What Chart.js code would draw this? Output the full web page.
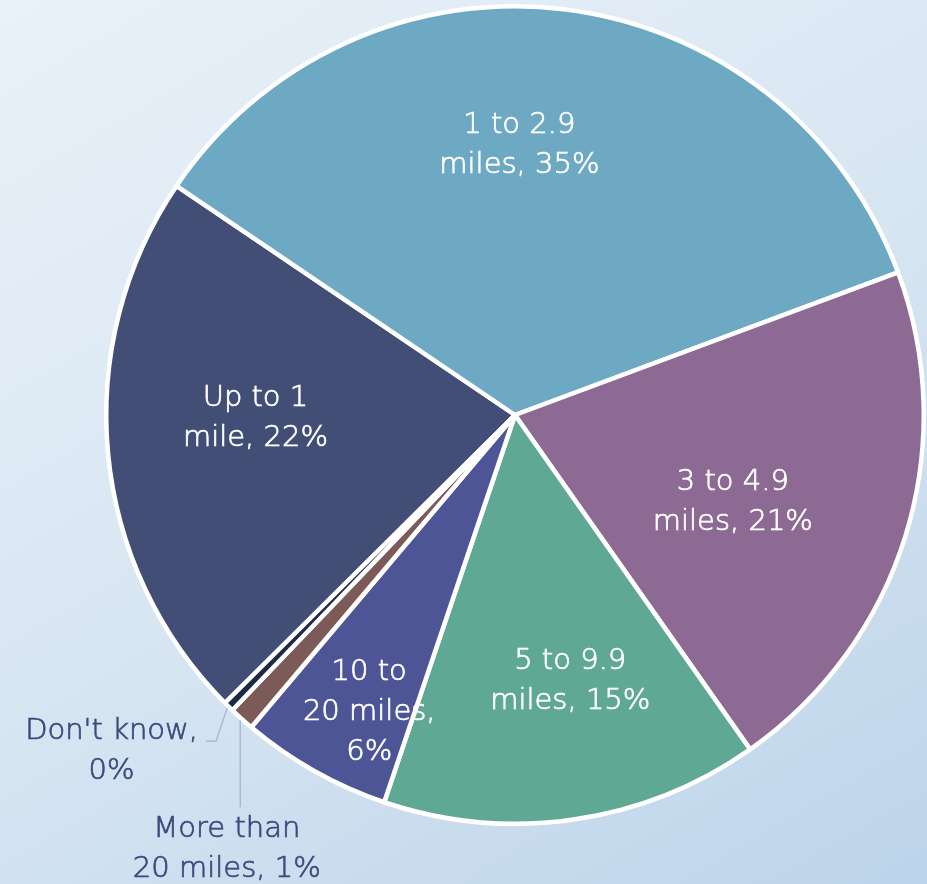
<!DOCTYPE html>
<html>
<head>
<meta charset="utf-8">
<title>Distance travelled</title>
<script src="https://cdn.jsdelivr.net/npm/chart.js@4.4.1/dist/chart.umd.min.js"></script>
<style>
    html, body {
        margin: 0;
        padding: 0;
        width: 927px;
        height: 884px;
        overflow: hidden;
        background: linear-gradient(150deg, #e9f1f9 0%, #d8e6f2 50%, #bcd4ea 100%);
    }
    #distanceChart {
        display: block;
    }
</style>
</head>
<body>
<canvas id="distanceChart" width="927" height="884"></canvas>
<script>
// Share of respondents by distance band
const categories = ['Up to 1 mile', '1 to 2.9 miles', '3 to 4.9 miles', '5 to 9.9 miles',
    '10 to 20 miles', 'More than 20 miles', "Don't know"];
const shares = [22, 35, 21, 15, 6, 1, 0.4];

// How each label breaks over lines (the percentage is appended to the last line)
const labelLines = [
    ['Up to 1', 'mile,'],
    ['1 to 2.9', 'miles,'],
    ['3 to 4.9', 'miles,'],
    ['5 to 9.9', 'miles,'],
    ['10 to', '20 miles,', ''],
    ['More than', '20 miles,'],
    ["Don't know,", '']
];

const sliceColors = ['#424e76', '#6ea9c4', '#8c6a93', '#5fa894', '#4e5597', '#7b5a58', '#1e2a45'];

// label placement: angle nudge (deg) from the slice middle and distance as a fraction of the radius
const labelShift = [4.6, -5.9, 4.6, -3.5, -3.3, -8.4, 5.7];
const labelDist = [0.635, 0.66, 0.574, 0.665, 0.81, 1.275, 1.285];
const outsideLabel = [false, false, false, false, false, true, true];

const FONT = '200 29px "DejaVu Sans", "Open Sans", sans-serif';
const LINE_H = 40;

const sliceLabels = {
    id: 'sliceLabels',
    afterDatasetsDraw(chart) {
        const ctx = chart.ctx;
        const meta = chart.getDatasetMeta(0);
        ctx.save();
        ctx.font = FONT;
        ctx.textAlign = 'center';
        ctx.textBaseline = 'middle';

        meta.data.forEach((arc, i) => {
            const { x, y, startAngle, endAngle, outerRadius } =
                arc.getProps(['x', 'y', 'startAngle', 'endAngle', 'outerRadius'], true);
            const mid = (startAngle + endAngle) / 2;
            const a = mid + labelShift[i] * Math.PI / 180;
            const r = outerRadius * labelDist[i];
            const cx = x + Math.cos(a) * r;
            const cy = y + Math.sin(a) * r;

            const lines = labelLines[i].slice();
            const pct = Math.round(shares[i]) + '%';
            const last = lines.length - 1;
            lines[last] = lines[last] ? lines[last] + ' ' + pct : pct;

            const top = cy - (lines.length - 1) * LINE_H / 2;
            let color = '#ffffff';

            if (outsideLabel[i]) {
                // leader line from the slice edge to the text
                const ex = x + Math.cos(mid) * (outerRadius + 2);
                const ey = y + Math.sin(mid) * (outerRadius + 2);
                ctx.strokeStyle = '#a9b9d8';
                ctx.lineWidth = 1.5;
                ctx.beginPath();
                ctx.moveTo(ex, ey);
                if (ey < top - LINE_H / 2 && Math.abs(ex - cx) < 60) {
                    ctx.lineTo(ex, top - LINE_H / 2 - 2);
                } else {
                    const right = cx + ctx.measureText(lines[0]).width / 2;
                    const elbowY = top + 10;
                    ctx.lineTo(right + 18, elbowY);
                    ctx.lineTo(right + 8, elbowY);
                }
                ctx.stroke();
                color = '#3a4a7e';
            }

            // thin outline in the text colour gives the light face a little more weight
            ctx.fillStyle = color;
            ctx.strokeStyle = color;
            ctx.lineWidth = 0.7;
            lines.forEach((line, k) => {
                ctx.fillText(line, cx, top + k * LINE_H);
                ctx.strokeText(line, cx, top + k * LINE_H);
            });
        });
        ctx.restore();
    }
};

new Chart(document.getElementById('distanceChart'), {
    type: 'pie',
    data: {
        labels: categories,
        datasets: [{
            data: shares,
            backgroundColor: sliceColors,
            borderColor: '#ffffff',
            borderWidth: 4.5
        }]
    },
    options: {
        responsive: false,
        animation: false,
        rotation: 225.2,
        layout: {
            padding: { left: 104, right: 1, top: 4, bottom: 58 }
        },
        plugins: {
            legend: { display: false },
            tooltip: { enabled: false }
        }
    },
    plugins: [sliceLabels]
});
</script>
</body>
</html>
